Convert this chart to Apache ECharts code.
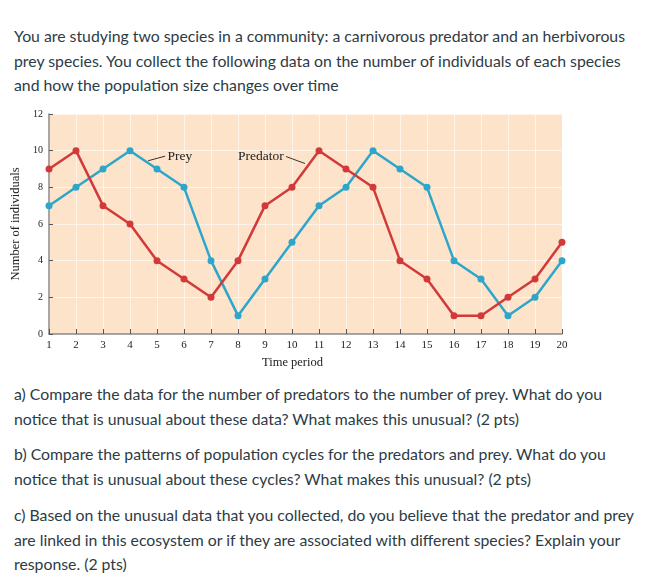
<!DOCTYPE html>
<html>
<head>
<meta charset="utf-8">
<script src="https://cdn.jsdelivr.net/npm/echarts@6/dist/echarts.min.js"></script>
<style>
  html, body { margin: 0; padding: 0; background: #fff; }
  body { width: 651px; height: 581px; position: relative; overflow: hidden; }
  .txt { position: absolute; left: 14px; width: 630px; font-family: Lato, sans-serif; font-size: 15.8px; line-height: 24.5px; color: #2d3b45; }
  #chart { position: absolute; left: 0; top: 100px; width: 600px; height: 275px; }
</style>
</head>
<body>
<div class="txt" style="top:24px">You are studying two species in a community: a carnivorous predator and an herbivorous prey species. You collect the following data on the number of individuals of each species and how the population size changes over time</div>
<div id="chart"></div>
<div class="txt" style="top:382px">a) Compare the data for the number of predators to the number of prey. What do you notice that is unusual about these data? What makes this unusual? (2 pts)</div>
<div class="txt" style="top:442px">b) Compare the patterns of population cycles for the predators and prey. What do you notice that is unusual about these cycles? What makes this unusual? (2 pts)</div>
<div class="txt" style="top:503px">c) Based on the unusual data that you collected, do you believe that the predator and prey are linked in this ecosystem or if they are associated with different species? Explain your response. (2 pts)</div>
<script>
const timePeriods = [1,2,3,4,5,6,7,8,9,10,11,12,13,14,15,16,17,18,19,20];
const predator = [9,10,7,6,4,3,2,4,7,8,10,9,8,4,3,1,1,2,3,5];
const prey = [7,8,9,10,9,8,4,1,3,5,7,8,10,9,8,4,3,1,2,4];
const yTicks = [0,2,4,6,8,10,12];

const serif = '"Liberation Serif", "DejaVu Serif", serif';
const chart = echarts.init(document.getElementById('chart'));
chart.setOption({
  animation: false,
  grid: { left: 49, right: 38, top: 14, bottom: 41, show: true, backgroundColor: '#fce3c9', borderWidth: 0 },
  xAxis: {
    type: 'value', min: 1, max: 20, interval: 1,
    name: 'Time period', nameLocation: 'middle', nameGap: 21,
    nameTextStyle: { fontFamily: serif, fontSize: 12.5, color: '#222', padding: [0, 26, 0, 0] },
    axisLine: { show: true, lineStyle: { color: '#8a8a8a', width: 1.5 } },
    axisTick: { show: true, inside: true, length: 5, lineStyle: { color: '#555' } },
    axisLabel: { fontFamily: serif, fontSize: 11, color: '#222', margin: 6 },
    splitLine: { show: true, lineStyle: { color: 'rgba(255,255,255,0.6)', width: 1 } }
  },
  yAxis: {
    type: 'value', min: 0, max: 12, interval: 2,
    name: 'Number of individuals', nameLocation: 'middle', nameGap: 24,
    nameTextStyle: { fontFamily: serif, fontSize: 12.5, color: '#222' },
    axisLine: { show: true, lineStyle: { color: '#8a8a8a', width: 1.5 } },
    axisTick: { show: true, inside: true, length: 4, lineStyle: { color: '#555' } },
    axisLabel: { fontFamily: serif, fontSize: 10, color: '#222', margin: 6,
      formatter: v => yTicks.includes(v) ? String(v) : '' },
    splitLine: { show: true, lineStyle: { color: 'rgba(255,255,255,0.6)', width: 1 } }
  },
  series: [
    {
      name: 'Prey', type: 'line',
      data: timePeriods.map((t, i) => [t, prey[i]]),
      symbol: 'circle', symbolSize: 7,
      lineStyle: { color: '#2ea6cc', width: 2.5 },
      itemStyle: { color: '#2ea6cc' },
      markLine: {
        silent: true, symbol: 'none',
        lineStyle: { color: '#333', width: 1, type: 'solid' },
        label: { show: false },
        data: [[{ coord: [4.67, 9.45] }, { coord: [5.3, 9.7] }]]
      },
      markPoint: {
        symbol: 'circle', symbolSize: 1,
        itemStyle: { color: 'rgba(0,0,0,0)' },
        label: { show: true, formatter: 'Prey', position: 'right', distance: 1,
          fontFamily: serif, fontSize: 13.5, color: '#222' },
        data: [{ coord: [5.33, 9.7] }]
      },
      z: 2
    },
    {
      name: 'Predator', type: 'line',
      data: timePeriods.map((t, i) => [t, predator[i]]),
      symbol: 'circle', symbolSize: 7,
      lineStyle: { color: '#d23a3a', width: 2.5 },
      itemStyle: { color: '#d23a3a' },
      markLine: {
        silent: true, symbol: 'none',
        lineStyle: { color: '#333', width: 1, type: 'solid' },
        label: { show: false },
        data: [[{ coord: [9.78, 9.68] }, { coord: [10.48, 9.3] }]]
      },
      markPoint: {
        symbol: 'circle', symbolSize: 1,
        itemStyle: { color: 'rgba(0,0,0,0)' },
        label: { show: true, formatter: 'Predator', position: 'left', distance: 1,
          fontFamily: serif, fontSize: 13.5, color: '#222' },
        data: [{ coord: [9.75, 9.7] }]
      },
      z: 3
    }
  ]
});
</script>
</body>
</html>
